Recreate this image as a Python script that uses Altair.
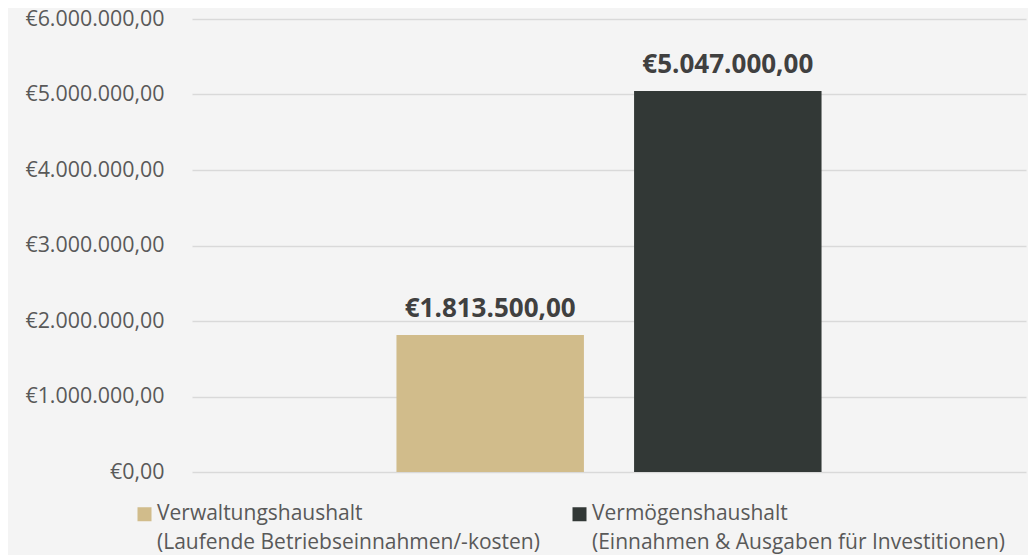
import altair as alt
import pandas as pd

series = ["Verwaltungshaushalt\n(Laufende Betriebseinnahmen/-kosten)",
          "Vermögenshaushalt\n(Einnahmen & Ausgaben für Investitionen)"]
values = [1813500, 5047000]
colors = ["#D1BC8B", "#323836"]
y_ticks = [0, 1000000, 2000000, 3000000, 4000000, 5000000, 6000000]

df = pd.DataFrame({"grp": ["Haushalt"] * 2, "series": series, "value": values})

FONT = "Open Sans"
eur_expr = ("'€' + replace(replace(replace(format({v}, ',.2f'), regexp(',', 'g'), '#'), '.', ','), "
            "regexp('#', 'g'), '.')")

x = alt.X("grp:N", axis=None, scale=alt.Scale(paddingInner=0, paddingOuter=0.481))
xo = alt.XOffset("series:N", sort=series, scale=alt.Scale(paddingInner=0.211, paddingOuter=0))
y = alt.Y("value:Q", title=None,
          scale=alt.Scale(domain=[0, 6000000], nice=False),
          axis=alt.Axis(values=y_ticks, labelExpr=eur_expr.format(v="datum.value"),
                        labelFont=FONT, labelFontSize=21.4, labelColor="#595959",
                        labelPadding=28, ticks=False, domain=False,
                        gridColor="#D9D9D9", gridWidth=1.5))

bars = alt.Chart(df).mark_bar().encode(
    x=x, xOffset=xo, y=y,
    color=alt.Color("series:N", sort=series,
                    scale=alt.Scale(domain=series, range=colors),
                    legend=alt.Legend(title=None, orient="none", legendX=-58, legendY=490.5,
                                      direction="horizontal", columns=2,
                                      labelExpr="split(datum.label, '\\n')",
                                      labelFont=FONT, labelFontSize=21, labelColor="#595959",
                                      labelLimit=600, labelOffset=2, labelBaseline="alphabetic",
                                      symbolType="M-1,-1.857H1V0.143H-1Z", symbolSize=196,
                                      symbolStrokeWidth=0,
                                      symbolOpacity=1, columnPadding=29, padding=0)),
)

labels = alt.Chart(df).transform_calculate(
    lab=eur_expr.format(v="datum.value")
).mark_text(font=FONT, fontSize=26, fontWeight="bold", color="#404040",
            baseline="alphabetic", dy=-18).encode(
    x=x, xOffset=xo, y=alt.Y("value:Q"), text="lab:N"
)

chart = (bars + labels).properties(
    width=834, height=453,
    autosize=alt.AutoSizeParams(type="none"),
    padding={"left": 184, "top": 11, "right": 2, "bottom": 83},
    background="#F4F4F4",
).configure(style={"guide-label": {"lineHeight": 29}}).configure_view(strokeWidth=0)

chart.save("out.html", embed_options={"renderer": "svg", "actions": False})
